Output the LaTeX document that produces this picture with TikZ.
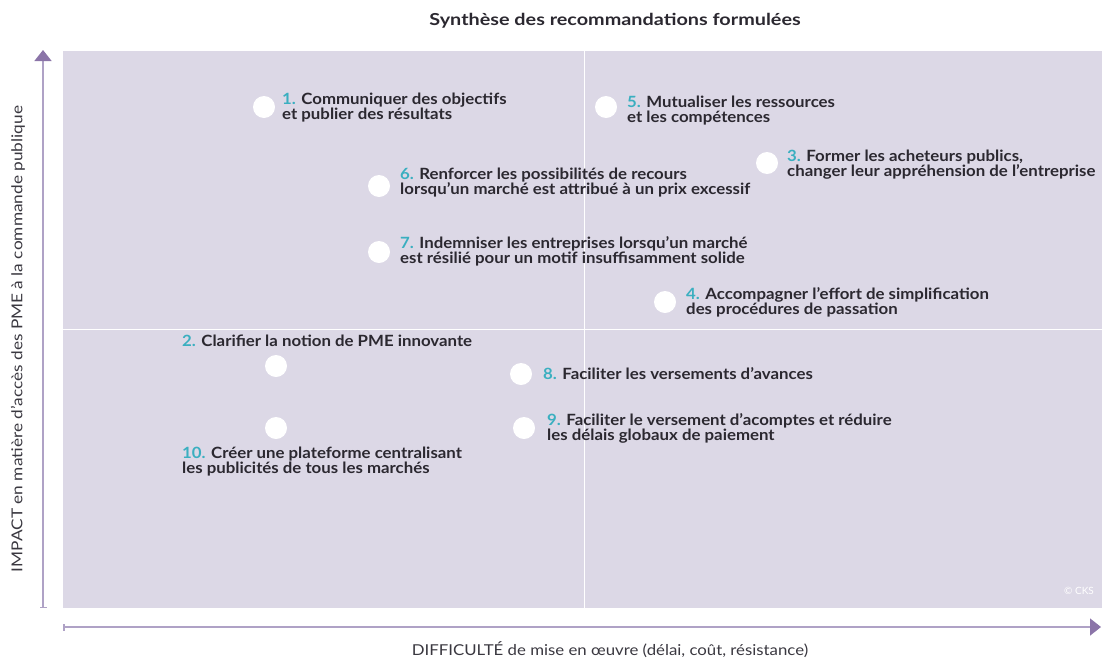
\documentclass[tikz,border=0pt]{standalone}
\usepackage{fontspec}
\setmainfont{Lato}
\newfontfamily\recofont[FakeStretch=1.085]{Lato}
\newfontfamily\titlefont[FakeStretch=1.2]{Lato}
\newfontfamily\axisfont[FakeStretch=1.15]{Lato}
\newfontfamily\xaxisfont[FakeStretch=1.12]{Lato}
\usetikzlibrary{arrows.meta}
\definecolor{plotbg}{HTML}{DCD8E6}
\definecolor{numcol}{HTML}{3AAFC0}
\definecolor{txtcol}{HTML}{2B2830}
\definecolor{axistxt}{HTML}{3A3840}
\definecolor{axisline}{HTML}{AFA2C6}
\definecolor{axistip}{HTML}{8B74A8}
\begin{document}
\begin{tikzpicture}[x=1pt,y=-1pt,
  dot/.style={circle,fill=white,draw=none,minimum size=22pt,inner sep=0pt},
  reco/.style={anchor=base west,align=left,inner sep=0pt,text=txtcol,
    font=\recofont\bfseries\fontsize{15.5}{15.5}\selectfont},
  axislab/.style={text=axistxt},
  axis/.style={draw=axisline,line width=1.5pt,
    {Bar[width=7pt,color=axisline]}-{Triangle[width=17pt,length=11pt,color=axistip]}},
  divider/.style={draw=white,line width=1pt}]
\useasboundingbox (0,0) rectangle (1102,659);
% plot area and quadrant dividers
\fill[plotbg] (63,51) rectangle (1102,608);
\coordinate (vtop) at (584,51);
\coordinate (vbot) at (584,608);
\coordinate (hleft) at (63,329);
\coordinate (hright) at (1102,329);
\draw[divider] (vtop) -- (vbot);
\draw[divider] (hleft) -- (hright);
% axes
\coordinate (yfrom) at (43,608);
\coordinate (yto) at (43,50);
\coordinate (xfrom) at (63,627);
\coordinate (xto) at (1101,627);
\draw[axis] (yfrom) -- (yto);
\draw[axis] (xfrom) -- (xto);
% titles
\node[text=txtcol,font=\titlefont\bfseries\fontsize{16.5}{17}\selectfont] (title) at (615,21) {Synthèse des recommandations formulées};
\node[axislab,font=\xaxisfont\fontsize{15}{16}\selectfont] (xlabel) at (610,650) {DIFFICULTÉ de mise en œuvre (délai, coût, résistance)};
\node[axislab,font=\axisfont\fontsize{15}{16}\selectfont,rotate=90] (ylabel) at (18,339) {IMPACT en matière d’accès des PME à la commande publique};
\node[text=white,font=\fontsize{10}{11}\selectfont] (copy) at (1079,591) {© CKS};
% recommendations (node y = baseline of the last line)
\node[dot] (d1) at (264,107) {};
\node[reco] (t1) at (282,119.5) {\textcolor{numcol}{1.} Communiquer des objectifs\\et publier des résultats};
\node[dot] (d5) at (606,107) {};
\node[reco] (t5) at (627,122.5) {\textcolor{numcol}{5.} Mutualiser les ressources\\et les compétences};
\node[dot] (d3) at (767,163) {};
\node[reco] (t3) at (787,176.5) {\textcolor{numcol}{3.} Former les acheteurs publics,\\changer leur appréhension de l’entreprise};
\node[dot] (d6) at (379,186) {};
\node[reco] (t6) at (400,194.5) {\textcolor{numcol}{6.} Renforcer les possibilités de recours\\lorsqu’un marché est attribué à un prix excessif};
\node[dot] (d7) at (379,252) {};
\node[reco] (t7) at (400,263.5) {\textcolor{numcol}{7.} Indemniser les entreprises lorsqu’un marché\\est résilié pour un motif insuffisamment solide};
\node[dot] (d4) at (665,302) {};
\node[reco] (t4) at (686,314.5) {\textcolor{numcol}{4.} Accompagner l’effort de simplification\\des procédures de passation};
\node[dot] (d2) at (276,366) {};
\node[reco] (t2) at (182,346) {\textcolor{numcol}{2.} Clarifier la notion de PME innovante};
\node[dot] (d8) at (521,374) {};
\node[reco] (t8) at (543,379) {\textcolor{numcol}{8.} Faciliter les versements d’avances};
\node[dot] (d10) at (276,428) {};
\node[reco] (t10) at (182,473.5) {\textcolor{numcol}{10.} Créer une plateforme centralisant\\les publicités de tous les marchés};
\node[dot] (d9) at (524,428) {};
\node[reco] (t9) at (547,440.5) {\textcolor{numcol}{9.} Faciliter le versement d’acomptes et réduire\\les délais globaux de paiement};
\end{tikzpicture}
\end{document}
